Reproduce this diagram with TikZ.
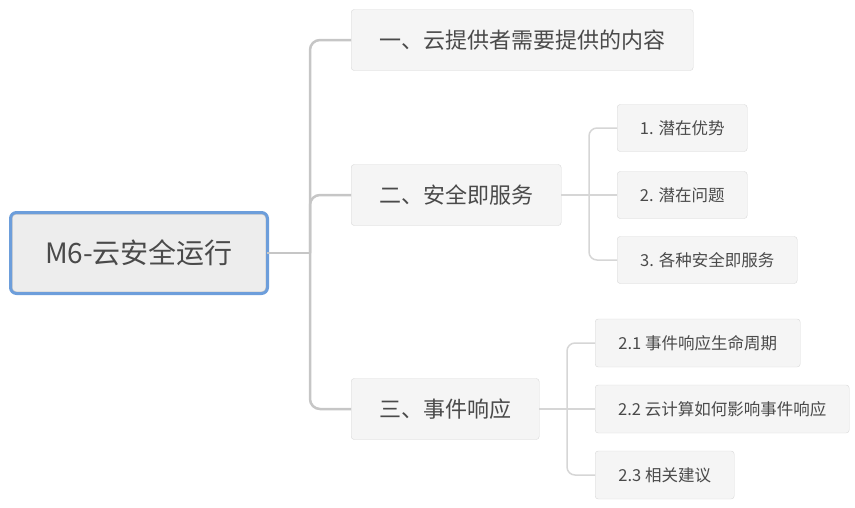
\documentclass[tikz,border=0pt]{standalone}
\usepackage{fontspec}
\setmainfont{Noto Sans CJK SC}
\usetikzlibrary{positioning,calc}
\definecolor{ink}{HTML}{4A4A4A}
\definecolor{rootblue}{HTML}{6D9EDB}
\definecolor{rootfill}{HTML}{EDEDED}
\definecolor{rootedge}{HTML}{C4C4C4}
\definecolor{boxfill}{HTML}{F5F5F5}
\definecolor{boxline}{HTML}{D8D8D8}
\definecolor{trunkgray}{HTML}{C6C6C6}
\definecolor{branchgray}{HTML}{D6D6D6}

\begin{document}
\begin{tikzpicture}[
  x=1pt, y=-1pt,
  rootbox/.style={rectangle, rounded corners=4pt, draw=rootedge, line width=1pt, fill=rootfill, text=ink, minimum width=254pt, minimum height=78pt, font=\fontsize{28}{33}\selectfont},
  rootring/.style={draw=rootblue, line width=3pt, rounded corners=6pt},
  topicbox/.style={rectangle, rounded corners=3pt, draw=boxline, fill=boxfill, text=ink, anchor=west, minimum height=61pt, font=\fontsize{22}{26}\selectfont},
  subbox/.style={rectangle, rounded corners=3pt, draw=boxline, fill=boxfill, text=ink, anchor=west, minimum height=47pt, font=\fontsize{16.5}{20}\selectfont},
  trunk/.style={draw=trunkgray, line width=2.5pt, rounded corners=10pt},
  branch/.style={draw=branchgray, line width=1.5pt, rounded corners=8pt}
]
\useasboundingbox (0,0) rectangle (855,507);

\node[rootbox] (root) at (139,253) {M6-云安全运行};
\draw[rootring] (10.5,212.5) rectangle (267.5,293.5);

\node[topicbox, minimum width=342pt] (provider) at (351,40) {一、云提供者需要提供的内容};
\node[topicbox, minimum width=210pt] (saas) at (351,195) {二、安全即服务};
\node[topicbox, minimum width=188pt] (incident) at (351,409) {三、事件响应};

\node[subbox, minimum width=130pt] (advantage) at (617,128) {1. 潜在优势};
\node[subbox, minimum width=130pt] (issues) at (617,195) {2. 潜在问题};
\node[subbox, minimum width=180pt] (services) at (617,260) {3. 各种安全即服务};

\node[subbox, minimum width=205pt, minimum height=48pt] (lifecycle) at (595,343) {2.1 事件响应生命周期};
\node[subbox, minimum width=254pt, minimum height=48pt] (impact) at (595,409) {2.2 云计算如何影响事件响应};
\node[subbox, minimum width=139pt, minimum height=48pt] (advice) at (595,475) {2.3 相关建议};

\coordinate (trunkFork) at (310,253);
\coordinate (saasFork) at (589,195);
\coordinate (incidentFork) at (567,409);

\draw[trunk] (root) -- (trunkFork);
\draw[trunk] (trunkFork) |- (provider.west);
\draw[trunk] (trunkFork) |- (saas.west);
\draw[trunk] (trunkFork) |- (incident.west);

\draw[branch] (saas) -- (saasFork);
\draw[branch] (saasFork) |- (advantage.west);
\draw[branch] (saasFork) -- (issues.west);
\draw[branch] (saasFork) |- (services.west);

\draw[branch] (incident) -- (incidentFork);
\draw[branch] (incidentFork) |- (lifecycle.west);
\draw[branch] (incidentFork) -- (impact.west);
\draw[branch] (incidentFork) |- (advice.west);
\end{tikzpicture}
\end{document}
